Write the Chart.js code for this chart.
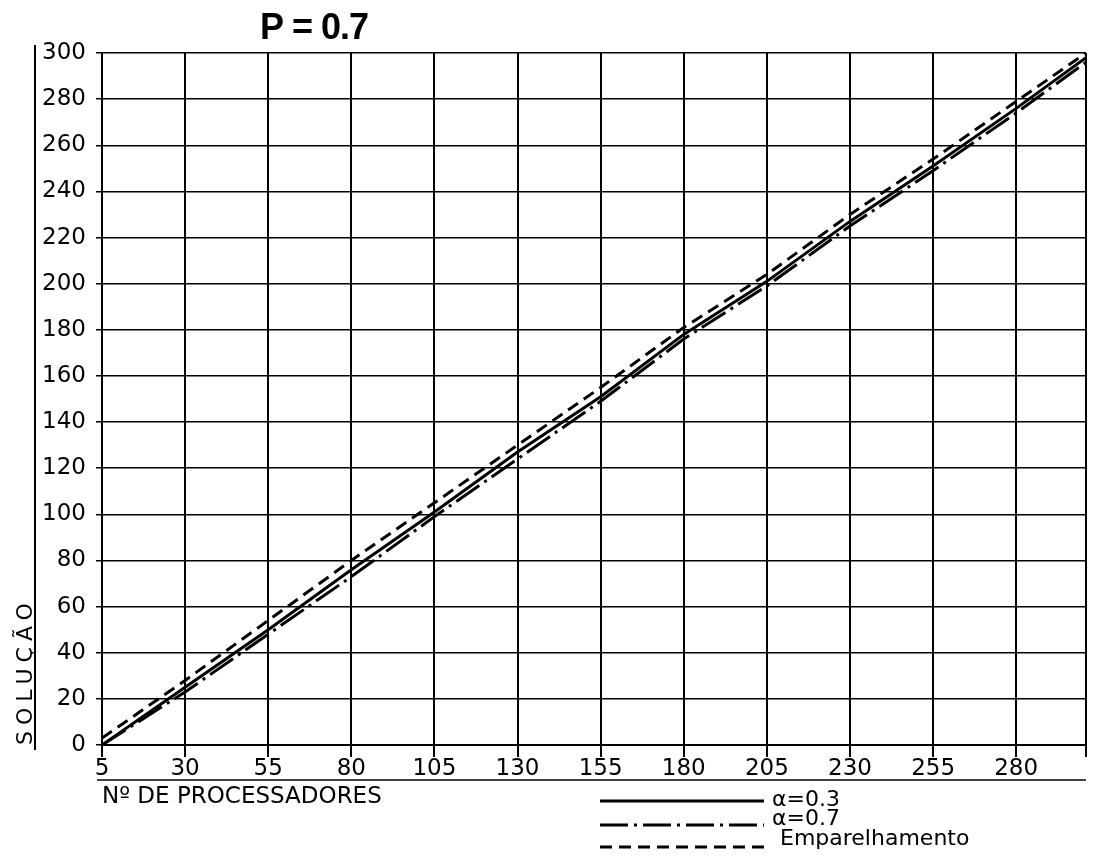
<!DOCTYPE html>
<html>
<head>
<meta charset="utf-8">
<title>P = 0.7</title>
<script src="https://cdn.jsdelivr.net/npm/chart.js@4.4.1/dist/chart.umd.min.js"></script>
<style>
    html, body { margin: 0; padding: 0; background: #fff; }
</style>
</head>
<body>
<canvas id="grafico" width="1095" height="863"></canvas>
<script>
// dados
var processadores = [5, 30, 55, 80, 105, 130, 155, 180, 205, 230, 255, 280, 301];
var alfa03 = [0, 25, 50, 76, 101, 127, 151, 178, 201, 227, 251, 276, 298];
var alfa07 = [0, 23, 48, 73, 99, 124, 149, 176, 199, 225, 249, 274, 296];
var emparelhamento = [3, 28, 54, 80, 105, 130, 155, 181, 204, 230, 254, 279, 300];

var ticksX = [5, 30, 55, 80, 105, 130, 155, 180, 205, 230, 255, 280];
var ticksY = [0, 20, 40, 60, 80, 100, 120, 140, 160, 180, 200, 220, 240, 260, 280, 300];
var xMax = 301;

var fonte = '"DejaVu Sans", sans-serif';

function pontos(valores) {
    return processadores.map(function (p, i) {
        return {x: p, y: valores[i]};
    });
}

// titulo, linhas auxiliares e legenda desenhadas a mao
var extras = {
    id: 'extras',
    afterDraw: function (chart) {
        var ctx = chart.ctx;
        var area = chart.chartArea;
        ctx.save();
        ctx.fillStyle = '#000';
        ctx.strokeStyle = '#000';

        ctx.font = 'bold 36px "Liberation Sans", sans-serif';
        ctx.letterSpacing = '-1px';
        ctx.textBaseline = 'middle';
        ctx.textAlign = 'left';
        ctx.fillText('P = 0.7', 260, 29);
        ctx.letterSpacing = '0px';

        // linha vertical a esquerda
        ctx.lineWidth = 2;
        ctx.beginPath();
        ctx.moveTo(35, 45);
        ctx.lineTo(35, 750);
        ctx.stroke();

        // linha sob os rotulos do eixo x
        ctx.lineWidth = 1.5;
        ctx.beginPath();
        ctx.moveTo(97, 780);
        ctx.lineTo(area.right, 780);
        ctx.stroke();

        // titulo do eixo y
        ctx.save();
        ctx.translate(26, area.bottom);
        ctx.rotate(-Math.PI / 2);
        ctx.font = '22px ' + fonte;
        ctx.letterSpacing = '6px';
        ctx.textAlign = 'left';
        ctx.fillText('SOLUÇÃO', 0, 0);
        ctx.restore();

        // legenda
        var linhaY = [801, 825, 847];
        var textoY = [800, 819, 839];
        ctx.font = '22px ' + fonte;
        chart.data.datasets.forEach(function (ds, i) {
            ctx.lineWidth = 3;
            ctx.setLineDash(ds.borderDash || []);
            ctx.beginPath();
            ctx.moveTo(600, linhaY[i]);
            ctx.lineTo(764, linhaY[i]);
            ctx.stroke();
            ctx.setLineDash([]);
            ctx.fillText(ds.label, i === 2 ? 780 : 772, textoY[i]);
        });
        ctx.restore();
    }
};

var ctx = document.getElementById('grafico').getContext('2d');

var grafico = new Chart(ctx, {
    type: 'line',
    data: {
        datasets: [{
                label: 'α=0.3',
                data: pontos(alfa03),
                borderColor: '#000',
                borderWidth: 3,
                pointRadius: 0,
                fill: false
            }, {
                label: 'α=0.7',
                data: pontos(alfa07),
                borderColor: '#000',
                borderWidth: 3,
                borderDash: [28, 6, 3, 6],
                pointRadius: 0,
                fill: false
            }, {
                label: 'Emparelhamento',
                data: pontos(emparelhamento),
                borderColor: '#000',
                borderWidth: 3,
                borderDash: [12, 7],
                pointRadius: 0,
                fill: false
            }]
    },
    options: {
        responsive: false,
        animation: false,
        devicePixelRatio: 1,
        layout: {
            padding: {left: 0, top: 53, right: 9, bottom: 0}
        },
        plugins: {
            legend: {display: false},
            tooltip: {enabled: false}
        },
        scales: {
            x: {
                type: 'linear',
                min: 5,
                max: xMax,
                afterBuildTicks: function (scale) {
                    scale.ticks = ticksX.concat([xMax]).map(function (v) {
                        return {value: v};
                    });
                },
                afterFit: function (scale) {
                    scale.height = 118;
                },
                ticks: {
                    color: '#000',
                    font: {family: fonte, size: 23},
                    padding: -2,
                    maxRotation: 0,
                    autoSkip: false,
                    callback: function (v) {
                        return v === xMax ? '' : v;
                    }
                },
                grid: {color: '#000', lineWidth: 2, tickLength: 12},
                border: {color: '#000', width: 2},
                title: {
                    display: true,
                    text: 'Nº DE PROCESSADORES',
                    align: 'start',
                    color: '#000',
                    font: {family: fonte, size: 23},
                    padding: {top: 0, bottom: 52}
                }
            },
            y: {
                min: 0,
                max: 300,
                afterBuildTicks: function (scale) {
                    scale.ticks = ticksY.map(function (v) {
                        return {value: v};
                    });
                },
                afterFit: function (scale) {
                    scale.width = 102;
                },
                ticks: {
                    color: '#000',
                    font: {family: fonte, size: 23},
                    padding: 10
                },
                grid: {color: '#000', lineWidth: 1.5, tickLength: 6},
                border: {color: '#000', width: 2}
            }
        }
    },
    plugins: [extras]
});
</script>
</body>
</html>
